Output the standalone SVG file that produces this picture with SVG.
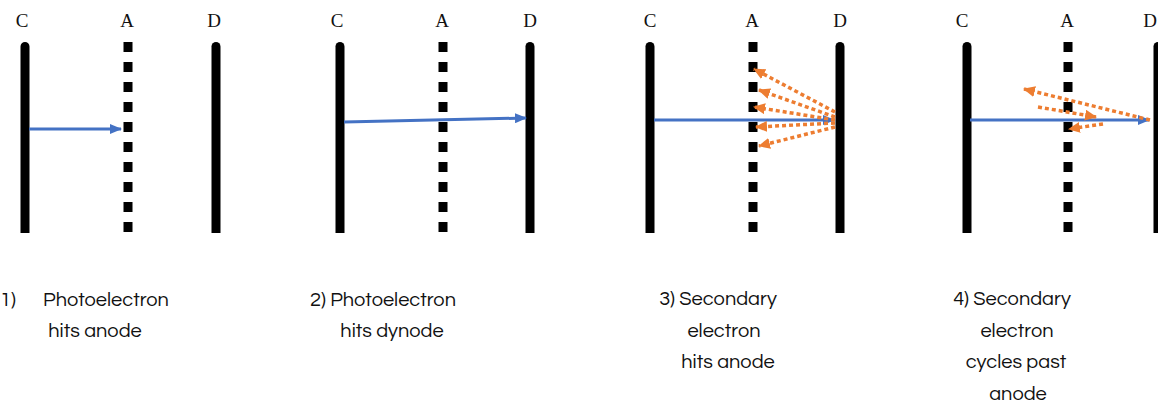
<svg xmlns="http://www.w3.org/2000/svg" width="1158" height="403" viewBox="0 0 1158 403">
<style>
.bar{fill:#000}
.dash{stroke:#000;stroke-width:9;stroke-dasharray:10 10;fill:none}
.lbl{font-family:"Liberation Serif",serif;font-size:19px;fill:#111;text-anchor:middle}
.cap{font-family:"Questrial","Century Gothic","DejaVu Sans","Liberation Sans",sans-serif;font-size:20px;fill:#111;text-anchor:middle}
.blue{stroke:#4472C4;stroke-width:3;fill:none;marker-end:url(#ab)}
.or{stroke:#ED7D31;stroke-width:3.5;stroke-dasharray:4 3;fill:none;marker-end:url(#ao)}
</style>
<defs>
<marker id="ab" markerUnits="userSpaceOnUse" markerWidth="12" markerHeight="10" refX="11" refY="5" orient="auto"><path d="M0,0 L12,5 L0,10 Z" fill="#4472C4"/></marker>
<marker id="ao" markerUnits="userSpaceOnUse" markerWidth="12" markerHeight="11" refX="11" refY="5.5" orient="auto"><path d="M0,0 L12,5.5 L0,11 Z" fill="#ED7D31"/></marker>
</defs>
<rect width="1158" height="403" fill="#fff"/>

<g id="panel1">
<text class="lbl" x="22" y="27">C</text>
<text class="lbl" x="127" y="27">A</text>
<text class="lbl" x="214" y="27">D</text>
<path class="bar" d="M20.5,233 V46.5 a4.5,4.5 0 0 1 9,0 V233 Z"/>
<path class="bar" d="M211.5,233 V46.5 a4.5,4.5 0 0 1 9,0 V233 Z"/>
<line class="dash" x1="128" y1="42" x2="128" y2="233"/>
<text class="cap" x="8" y="306" text-anchor="start">1)</text>
<text class="cap" x="106" y="306">Photoelectron</text>
<text class="cap" x="95" y="337">hits anode</text>
</g>

<g id="panel2">
<text class="lbl" x="337" y="27">C</text>
<text class="lbl" x="442" y="27">A</text>
<text class="lbl" x="530" y="27">D</text>
<path class="bar" d="M335.5,233 V46.5 a4.5,4.5 0 0 1 9,0 V233 Z"/>
<path class="bar" d="M525.5,233 V46.5 a4.5,4.5 0 0 1 9,0 V233 Z"/>
<line class="dash" x1="443" y1="42" x2="443" y2="233"/>
<text class="cap" x="383" y="306">2) Photoelectron</text>
<text class="cap" x="392" y="337">hits dynode</text>
</g>

<g id="panel3">
<text class="lbl" x="650" y="27">C</text>
<text class="lbl" x="752" y="27">A</text>
<text class="lbl" x="840" y="27">D</text>
<path class="bar" d="M645.5,233 V46.5 a4.5,4.5 0 0 1 9,0 V233 Z"/>
<path class="bar" d="M835.5,233 V46.5 a4.5,4.5 0 0 1 9,0 V233 Z"/>
<line class="dash" x1="753" y1="42" x2="753" y2="233"/>
<text class="cap" x="718" y="305">3) Secondary</text>
<text class="cap" x="724" y="337">electron</text>
<text class="cap" x="728" y="368">hits anode</text>
</g>

<g id="panel4">
<text class="lbl" x="962" y="27">C</text>
<text class="lbl" x="1067" y="27">A</text>
<text class="lbl" x="1150" y="27">D</text>
<path class="bar" d="M962.5,233 V46.5 a4.5,4.5 0 0 1 9,0 V233 Z"/>
<path class="bar" d="M1153.5,233 V46.5 a4.5,4.5 0 0 1 9,0 V233 Z"/>
<line class="dash" x1="1068" y1="42" x2="1068" y2="233"/>
<text class="cap" x="1012" y="305">4) Secondary</text>
<text class="cap" x="1017" y="337">electron</text>
<text class="cap" x="1016" y="368">cycles past</text>
<text class="cap" x="1018" y="400">anode</text>
</g>

<g id="connectors">
<line class="blue" x1="29" y1="129" x2="121" y2="129"/>
<line class="blue" x1="344" y1="122" x2="526" y2="118"/>
<line class="blue" x1="654" y1="120" x2="834" y2="120"/>
<line class="blue" x1="970" y1="120" x2="1149" y2="120"/>
<line class="or" x1="835" y1="112" x2="754" y2="69"/>
<line class="or" x1="835" y1="117" x2="759" y2="90"/>
<line class="or" x1="835" y1="120" x2="754" y2="107"/>
<line class="or" x1="835" y1="123" x2="756" y2="127"/>
<line class="or" x1="835" y1="127" x2="759" y2="146"/>
<line class="or" x1="1150" y1="120" x2="1024" y2="89"/>
<line class="or" x1="1038" y1="107" x2="1096" y2="117"/>
<line class="or" x1="1103" y1="124" x2="1069" y2="129"/>
</g>
</svg>
